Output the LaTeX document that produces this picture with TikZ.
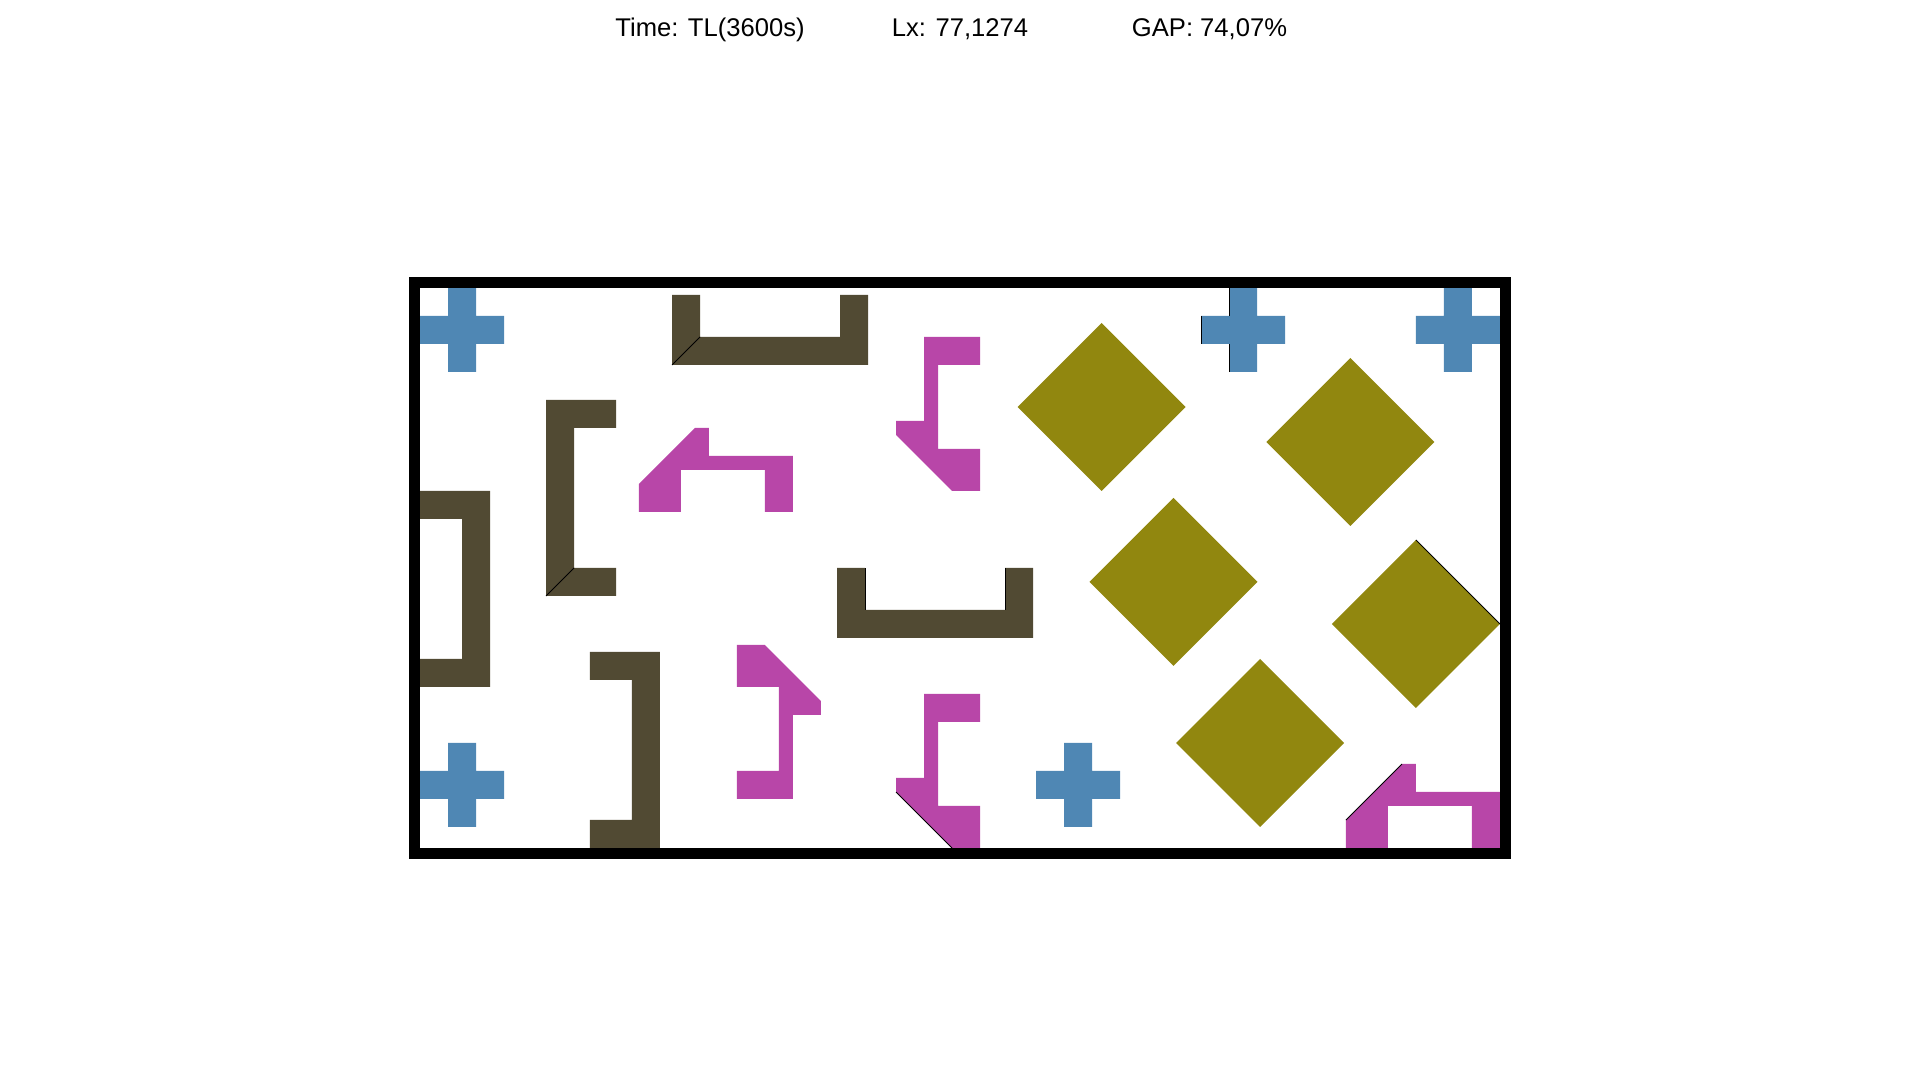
\documentclass[tikz,border=0pt]{standalone}
\usepackage{fontspec}
\setmainfont{Liberation Sans}
\definecolor{pbrown}{RGB}{81,74,51}
\definecolor{pmag}{RGB}{184,70,168}
\definecolor{pblue}{RGB}{79,135,180}
\definecolor{polive}{RGB}{145,135,15}
\begin{document}
\begin{tikzpicture}[x=0.5pt,y=0.5pt,
  lbl/.style={anchor=base,inner sep=0pt,font=\fontsize{12.8}{15}\selectfont},
  brownpc/.style={fill=pbrown},
  magpc/.style={fill=pmag},
  bluepc/.style={fill=pblue},
  olivepc/.style={fill=polive},
  seam/.style={draw=black,line width=0.5pt},
  frame/.style={draw=black,line width=5.5pt}]
\useasboundingbox (0,0) rectangle (1920,1080);
\node[lbl] (time) at (710,1043.5) {Time: TL(3600s)};
\node[lbl] (lx) at (960,1043.5) {Lx: 77,1274};
\node[lbl] (gap) at (1209.5,1043.5) {GAP: 74,07\%};
\begin{scope}[shift={(210pt,116pt)},x=7pt,y=7pt]
  % brown pieces
  \fill[brownpc] (18,34.5)--(32,34.5)--(32,39.5)--(30,39.5)--(30,36.5)--(20,36.5)--(20,39.5)--(18,39.5)--cycle;
  \draw[seam] (18,34.5)--(20,36.5);
  \fill[brownpc] (9,18)--(14,18)--(14,20)--(11,20)--(11,30)--(14,30)--(14,32)--(9,32)--cycle;
  \draw[seam] (9,18)--(11,20);
  \fill[brownpc] (0,11.5)--(5,11.5)--(5,25.5)--(0,25.5)--(0,23.5)--(3,23.5)--(3,13.5)--(0,13.5)--cycle;
  \fill[brownpc] (12.14,0)--(17.14,0)--(17.14,14)--(12.14,14)--(12.14,12)--(15.14,12)--(15.14,2)--(12.14,2)--cycle;
  \fill[brownpc] (29.8,15)--(43.8,15)--(43.8,20)--(41.8,20)--(41.8,17)--(31.8,17)--(31.8,20)--(29.8,20)--cycle;
  \draw[seam] (31.8,17)--(31.8,20) (41.8,17)--(41.8,20);
  % magenta pieces
  \fill[magpc] (15.64,24)--(18.64,24)--(18.64,27)--(24.64,27)--(24.64,24)--(26.64,24)--(26.64,28)--(20.64,28)--(20.64,30)--(19.64,30)--(15.64,26)--cycle;
  \fill[magpc] (36,36.5)--(40,36.5)--(40,34.5)--(37,34.5)--(37,28.5)--(40,28.5)--(40,25.5)--(38,25.5)--(34,29.5)--(34,30.5)--(36,30.5)--cycle;
  \fill[magpc] (36,11)--(40,11)--(40,9)--(37,9)--(37,3)--(40,3)--(40,0)--(38,0)--(34,4)--(34,5)--(36,5)--cycle;
  \draw[seam] (34,4)--(38,0);
  \fill[magpc] (22.64,14.5)--(24.64,14.5)--(28.64,10.5)--(28.64,9.5)--(26.64,9.5)--(26.64,3.5)--(22.64,3.5)--(22.64,5.5)--(25.64,5.5)--(25.64,11.5)--(22.64,11.5)--cycle;
  \fill[magpc] (66.14,0)--(69.14,0)--(69.14,3)--(75.14,3)--(75.14,0)--(77.14,0)--(77.14,4)--(71.14,4)--(71.14,6)--(70.14,6)--(66.14,2)--cycle;
  \draw[seam] (66.14,2)--(70.14,6);
  % blue crosses
  \foreach \cx/\cy in {3/37, 3/4.5, 47/4.5, 58.8/37, 74.14/37}
    \fill[bluepc] (\cx-1,\cy-3)--(\cx+1,\cy-3)--(\cx+1,\cy-1)--(\cx+3,\cy-1)--(\cx+3,\cy+1)--(\cx+1,\cy+1)--(\cx+1,\cy+3)--(\cx-1,\cy+3)--(\cx-1,\cy+1)--(\cx-3,\cy+1)--(\cx-3,\cy-1)--(\cx-1,\cy-1)--cycle;
  \draw[seam] (57.8,34)--(57.8,36) (57.8,38)--(57.8,40) (55.8,36)--(55.8,38);
  % olive diamonds
  \foreach \cx/\cy in {48.68/31.5, 66.45/29, 53.82/19, 71.14/16, 60/7.5}
    \fill[olivepc] (\cx-6,\cy)--(\cx,\cy+6)--(\cx+6,\cy)--(\cx,\cy-6)--cycle;
  \draw[seam] (71.14,22)--(77.14,16);
\end{scope}
\draw[frame] (414.5,226.5) rectangle (1505.5,797.5);
\end{tikzpicture}
\end{document}
